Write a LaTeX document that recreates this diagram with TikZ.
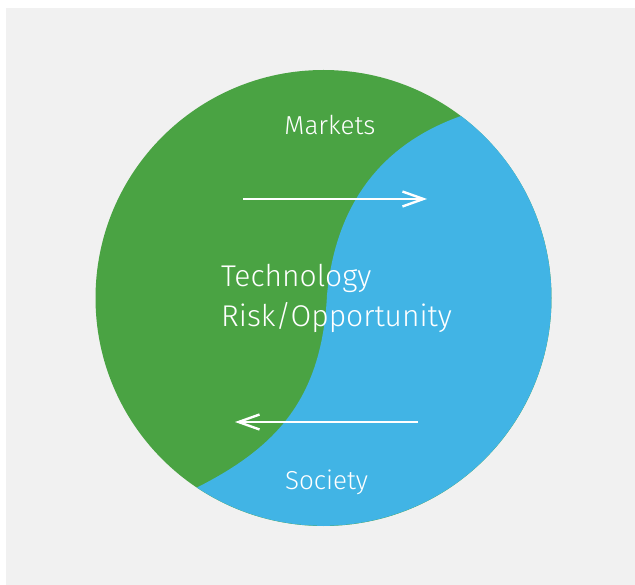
\documentclass[tikz,border=0pt]{standalone}
\usepackage{fontspec}
\setmainfont{Fira Sans}[UprightFont={* Light}]
\usetikzlibrary{arrows.meta}

\definecolor{paper}{HTML}{F1F1F1}
\definecolor{leafgreen}{HTML}{4AA343}
\definecolor{skyblue}{HTML}{41B4E5}

\begin{document}
\begin{tikzpicture}[x=1pt, y=-1pt,
  flow/.style={draw=white, line width=2.4pt, -{Straight Barb[length=21pt, width=15pt]}},
  txt/.style={text=white, inner sep=0pt}]
\useasboundingbox (0,0) rectangle (635,585);
\fill[paper] (6,8) rectangle (635,585);
\fill[leafgreen] (323.5,298) circle (228);
\fill[skyblue] (461,116) arc[start angle=-52.9, end angle=123.7, radius=228]
  .. controls (275,448) and (322,400) .. (327,295)
  .. controls (336,200) and (385,143) .. (461,116) -- cycle;
\coordinate (mkt-from) at (243,199);
\coordinate (mkt-to) at (427,199);
\coordinate (soc-from) at (418,422);
\coordinate (soc-to) at (235,422);
\draw[flow] (mkt-from) -- (mkt-to);
\draw[flow] (soc-from) -- (soc-to);
\node[txt, anchor=base, font=\fontsize{26}{31}\selectfont] (markets) at (330,135) {Markets};
\node[txt, anchor=base, font=\fontsize{26}{31}\selectfont] (society) at (326.5,489) {Society};
\node[txt, anchor=base west, font=\fontsize{30}{36}\selectfont] (tech) at (221,287) {Technology};
\node[txt, anchor=base west, font=\fontsize{30}{36}\selectfont] (risk) at (221,327) {Risk/Opportunity};
\end{tikzpicture}
\end{document}
